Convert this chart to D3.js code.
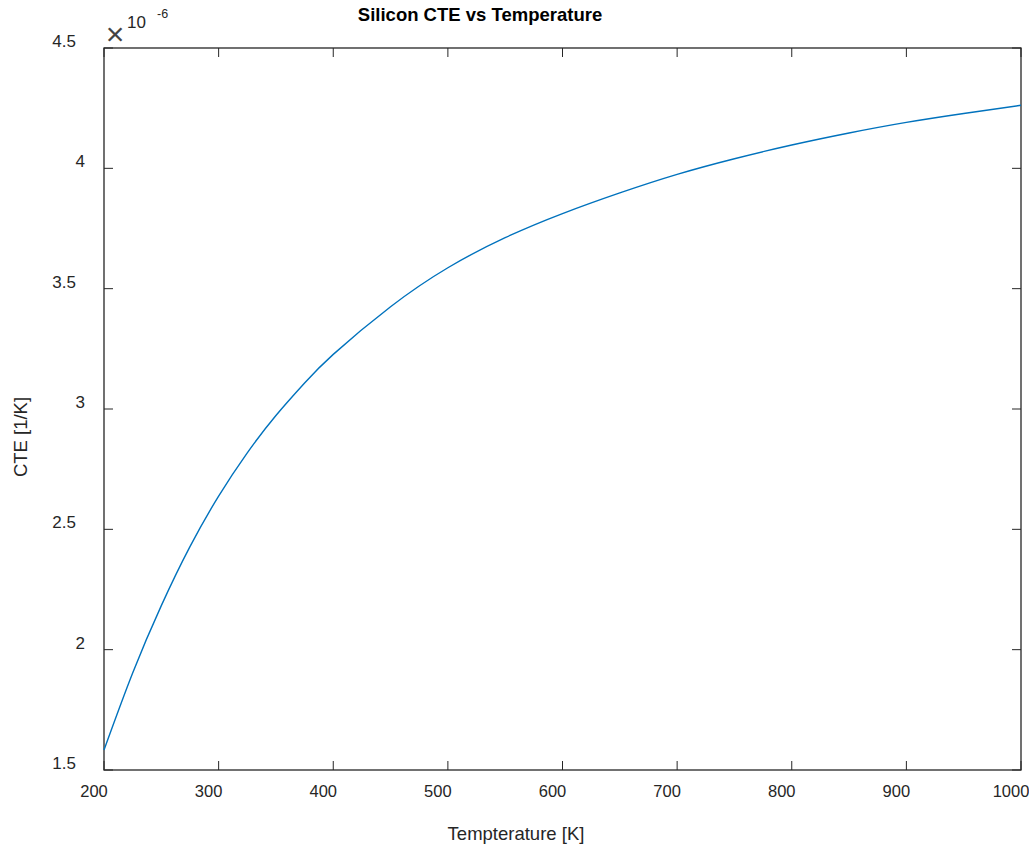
<!DOCTYPE html>
<html><head><meta charset="utf-8">
<script src="https://cdn.jsdelivr.net/npm/d3@7"></script>
<style>
body{margin:0;background:#fff;}
text{font-family:"Liberation Sans",Arial,sans-serif;fill:#262626;}
</style></head>
<body><svg id="c" width="1029" height="849"></svg>
<script>
const temperature = [200,225,250,275,300,325,350,375,400,450,500,550,600,650,700,750,800,850,900,950,1000];
const cte = [1.583,1.903,2.183,2.428,2.638,2.818,2.973,3.108,3.227,3.425,3.587,3.712,3.812,3.898,3.975,4.040,4.097,4.147,4.191,4.228,4.262];
const xTicks = [200,300,400,500,600,700,800,900,1000];
const yTicks = [1.5,2,2.5,3,3.5,4,4.5];

const svg = d3.select("#c");
const L=104,R=1021,T=48,B=770;
const x = d3.scaleLinear().domain([200,1000]).range([L,R]);
const y = d3.scaleLinear().domain([1.5,4.5]).range([B,T]);
const col="#262626";

svg.append("rect").attr("x",L).attr("y",T).attr("width",R-L).attr("height",B-T)
  .attr("fill","none").attr("stroke",col).attr("stroke-width",1.3);

const tl=9;
xTicks.forEach(v=>{
  svg.append("line").attr("x1",x(v)).attr("x2",x(v)).attr("y1",B).attr("y2",B-tl).attr("stroke",col);
  svg.append("line").attr("x1",x(v)).attr("x2",x(v)).attr("y1",T).attr("y2",T+tl).attr("stroke",col);
  svg.append("text").attr("x",x(v)-10).attr("y",B+27).attr("text-anchor","middle")
    .attr("font-size",16.5).text(v);
});
yTicks.forEach(v=>{
  svg.append("line").attr("x1",L).attr("x2",L+tl).attr("y1",y(v)).attr("y2",y(v)).attr("stroke",col);
  svg.append("line").attr("x1",R).attr("x2",R-tl).attr("y1",y(v)).attr("y2",y(v)).attr("stroke",col);
  const s = d3.format("")(v);
  svg.append("text").attr("x", s.length>1?76:85).attr("y",y(v)-1).attr("text-anchor","end")
    .attr("font-size",17).text(s);
});

const line = d3.line().x((d,i)=>x(temperature[i])).y(d=>y(d)).curve(d3.curveNatural);
svg.append("path").datum(cte).attr("d",line).attr("fill","none")
  .attr("stroke","#0072BD").attr("stroke-width",1.4);

svg.append("text").attr("x",115).attr("y",45).attr("text-anchor","middle")
  .attr("font-size",32).style("fill","#444").text("\u00D7");
svg.append("text").attr("x",127).attr("y",28).attr("font-size",17).text("10");
svg.append("text").attr("x",157).attr("y",18).attr("font-size",12.5).text("-6");

svg.append("text").attr("x",480).attr("y",21).attr("text-anchor","middle")
  .attr("font-size",18.5).attr("font-weight","bold").style("fill","#000").text("Silicon CTE vs Temperature");
svg.append("text").attr("x",516).attr("y",840).attr("text-anchor","middle")
  .attr("font-size",18.5).text("Tempterature [K]");
svg.append("text").attr("transform","translate(26.5,437) rotate(-90)").attr("text-anchor","middle")
  .attr("font-size",18.5).text("CTE [1/K]");
</script></body></html>
